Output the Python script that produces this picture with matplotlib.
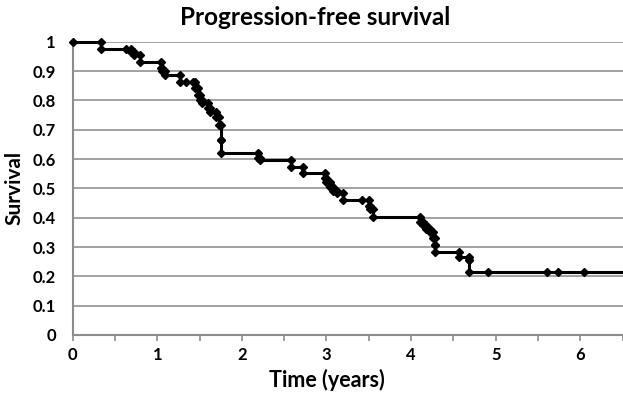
import matplotlib.pyplot as plt
from matplotlib.ticker import MultipleLocator

# Kaplan-Meier style data
event_t = [0.34, 0.69, 0.72, 0.80, 1.04, 1.06, 1.09, 1.27, 1.45, 1.48, 1.50,
           1.53, 1.60, 1.62, 1.70, 1.73, 1.75, 1.75, 2.195, 2.215, 2.575, 2.72,
           2.98, 3.00, 3.04, 3.08, 3.12, 3.20, 3.50, 3.52, 3.55, 4.10, 4.14,
           4.18, 4.22, 4.26, 4.28, 4.28, 4.56, 4.68, 4.68]
event_s = [0.977, 0.966, 0.955, 0.932, 0.91, 0.90, 0.886, 0.864, 0.841, 0.818,
           0.80, 0.79, 0.775, 0.76, 0.745, 0.716, 0.665, 0.62, 0.604, 0.597,
           0.574, 0.551, 0.534, 0.523, 0.506, 0.49, 0.483, 0.46, 0.44, 0.43,
           0.403, 0.387, 0.375, 0.36, 0.35, 0.33, 0.307, 0.284, 0.267, 0.256,
           0.216]
censor_t = [0.63, 1.34, 1.42, 3.42, 4.91, 5.60, 5.73, 6.04]
end_t = 6.5

plt.rcParams['font.family'] = ['Lato', 'DejaVu Sans']

# build step path vertices
xs, ys = [0.0], [1.0]
cur = 1.0
for t, s in zip(event_t, event_s):
    xs += [t, t]
    ys += [cur, s]
    cur = s

def surv_at(t):
    v = 1.0
    for et, es in zip(event_t, event_s):
        if et <= t:
            v = es
    return v

cx = censor_t
cy = [surv_at(t) for t in censor_t]

fig = plt.figure(figsize=(6.23, 3.95), dpi=100)
ax = fig.add_axes([0.1165, 0.152, 0.883, 0.742])

for yv in [i / 10 for i in range(1, 11)]:
    ax.axhline(yv, color='#9a9a9a', lw=1.3, zorder=1)

ax.plot(xs + [end_t], ys + [cur], color='black', lw=2.2, zorder=3, clip_on=False)
ax.plot(xs, ys, ls='none', marker='D', ms=4.2, color='black', zorder=4, clip_on=False)
ax.plot(cx, cy, ls='none', marker='D', ms=4.2, color='black', zorder=4, clip_on=False)

ax.set_xlim(0, end_t)
ax.set_ylim(0, 1)
ax.xaxis.set_major_locator(MultipleLocator(1))
ax.xaxis.set_minor_locator(MultipleLocator(0.5))
ax.set_yticks([i / 10 for i in range(11)])
ax.set_yticklabels(['0'] + ['0.%d' % i for i in range(1, 10)] + ['1'])

for side in ['top', 'right']:
    ax.spines[side].set_visible(False)
for side in ['left', 'bottom']:
    ax.spines[side].set_color('#8c8c8c')
    ax.spines[side].set_linewidth(1.5)

ax.tick_params(axis='x', which='both', direction='out', length=4, width=1.2,
               color='#8c8c8c', labelsize=12, pad=5)
ax.tick_params(axis='y', length=0, labelsize=12, pad=12)
for lab in ax.get_xticklabels() + ax.get_yticklabels():
    lab.set_fontweight('bold')

fig.text(0.506, 0.955, 'Progression-free survival', fontsize=17.5,
         fontweight='bold', ha='center', va='center')
ax.set_xlabel('Time (years)', fontsize=15.5, fontweight='bold', labelpad=0)
ax.xaxis.set_label_coords(3.0 / end_t, -0.115)
ax.xaxis.label.set_va('top')
ax.set_ylabel('Survival', fontsize=15, fontweight='bold', labelpad=6)

fig.savefig('out.png', dpi=100)
